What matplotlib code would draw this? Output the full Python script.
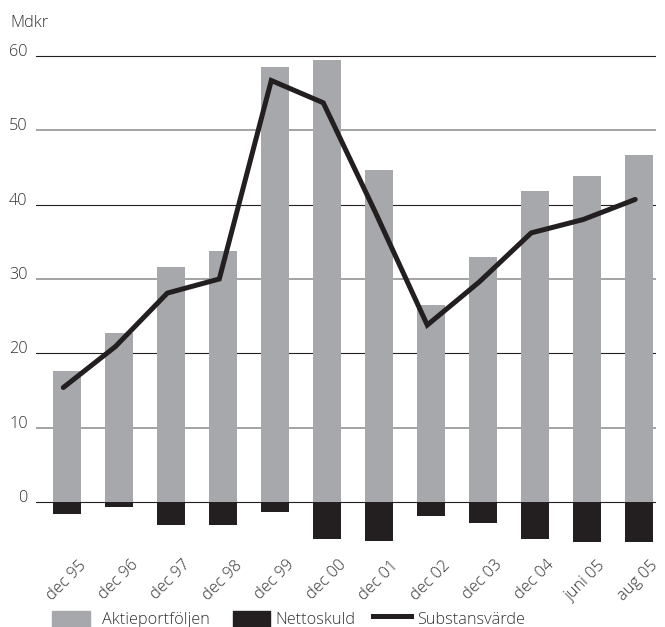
import matplotlib
matplotlib.use('Agg')
import matplotlib.pyplot as plt
import numpy as np
from matplotlib.patches import Rectangle
from matplotlib.lines import Line2D
import matplotlib.transforms as mtransforms

categories = ['dec 95', 'dec 96', 'dec 97', 'dec 98', 'dec 99', 'dec 00',
              'dec 01', 'dec 02', 'dec 03', 'dec 04', 'juni 05', 'aug 05']
aktieportfoljen = [17.6, 22.7, 31.6, 33.8, 58.5, 59.4, 44.7, 26.5, 33.0, 41.9, 43.9, 46.7]
nettoskuld = [-1.6, -0.7, -3.1, -3.1, -1.4, -5.0, -5.2, -1.9, -2.8, -5.0, -5.4, -5.4]
substansvarde = [15.4, 20.9, 28.1, 30.0, 56.7, 53.7, 39.0, 23.8, 29.6, 36.2, 38.0, 40.7]
yticks = [0, 10, 20, 30, 40, 50, 60]

GRAY = '#A7A8AB'
BLACK = '#231F20'
TEXT = '#333333'
FS = 11.7
FW = 'light'

plt.rcParams['font.family'] = ['Open Sans', 'DejaVu Sans']
plt.rcParams['font.size'] = FS
plt.rcParams['font.weight'] = FW

W, H = 665, 627
fig = plt.figure(figsize=(W / 100, H / 100), dpi=100)
left, right = 36 / W, 656 / W
bottom, top = 1 - 550.3 / H, 1 - 41.1 / H
ax = fig.add_axes([left, bottom, right - left, top - bottom])

x = np.arange(len(categories))
bw = 0.54
ax.bar(x, aktieportfoljen, width=bw, color=GRAY, zorder=2)
ax.bar(x, nettoskuld, width=bw, color=BLACK, zorder=2)
ax.plot(x - 0.07, substansvarde, color=BLACK, lw=3.6, solid_joinstyle='miter',
        solid_capstyle='round', zorder=3)

for t in yticks:
    if t % 20 == 0:
        ax.axhline(t, color='#231F20', lw=0.8, zorder=1)
    else:
        ax.axhline(t, color='#8a8a8a', lw=1.1, zorder=1)

ax.set_xlim(-0.596, 11.33)
ax.set_ylim(-6.5, 62)
for s in ax.spines.values():
    s.set_visible(False)

ax.set_yticks(yticks)
ax.set_yticklabels([str(t) for t in yticks], color=TEXT, fontsize=FS, fontweight=FW)
ax.tick_params(axis='y', length=0, pad=6)
for lab in ax.get_yticklabels():
    lab.set_verticalalignment('baseline')

ax.set_xticks(x)
ax.set_xticklabels(categories, rotation=45, ha='right', rotation_mode='anchor',
                   color=TEXT, fontsize=FS, fontweight=FW)
ax.tick_params(axis='x', length=0, pad=5)
offset = mtransforms.ScaledTranslation(11 / 100, 0, fig.dpi_scale_trans)
for lab in ax.get_xticklabels():
    lab.set_transform(lab.get_transform() + offset)

fig.text(10 / W, 1 - 27 / H, 'Mdkr', color=TEXT, fontsize=FS, fontweight=FW, va='baseline')

# legend
fig.patches.append(Rectangle((52 / W, 1 - 627 / H), 38 / W, 16 / H,
                             transform=fig.transFigure, color=GRAY))
fig.text(102 / W, 1 - 624 / H, 'Aktieportföljen', color=TEXT, fontsize=FS,
         fontweight=FW, va='baseline')
fig.patches.append(Rectangle((233 / W, 1 - 627 / H), 37 / W, 16 / H,
                             transform=fig.transFigure, color=BLACK))
fig.text(275 / W, 1 - 624 / H, 'Nettoskuld', color=TEXT, fontsize=FS,
         fontweight=FW, va='baseline')
fig.lines.append(Line2D([373 / W, 411 / W], [1 - 616 / H, 1 - 616 / H],
                        transform=fig.transFigure, color=BLACK, lw=3.6))
fig.text(417 / W, 1 - 624 / H, 'Substansvärde', color=TEXT, fontsize=FS,
         fontweight=FW, va='baseline')

fig.savefig('out.png', dpi=100)
